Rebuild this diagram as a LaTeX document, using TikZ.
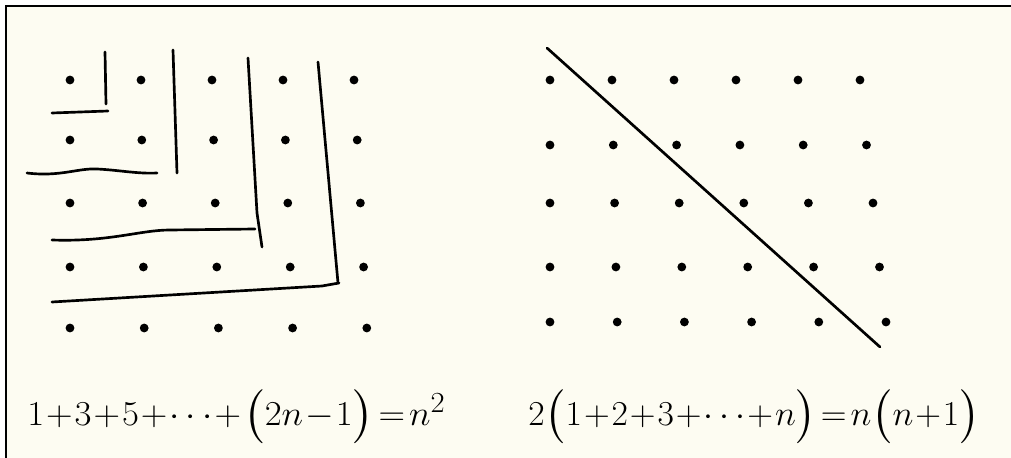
\documentclass[tikz,border=0pt]{standalone}
\usepackage{amsmath, amssymb}
\usepackage{tikz}
\definecolor{paper}{RGB}{253,252,242}

\begin{document}
\begin{tikzpicture}[x=0.025cm, y=-0.025cm,
    dot/.style={fill=black},
    pen/.style={draw=black, line width=1.9pt, line cap=round, line join=round},
    frame/.style={draw=black, line width=1.4pt},
    formula/.style={anchor=base west, inner sep=0pt, font=\fontsize{32}{36}\selectfont}
  ]
    \useasboundingbox (0,0) rectangle (1011,458);
    \fill[paper] (6,6) rectangle (1011,458);
    \draw[frame] (6,458) -- (6,6) -- (1011,6);
    % left square of dots
    \foreach \r/\y in {0/80,1/140,2/203,3/267,4/328}
      \foreach \c in {0,...,4}
        \fill[dot] (70+\c*71+\c*\r*0.8,\y) circle[radius=0.11cm];
    \draw[pen] (105,52) -- (106,104);
    \draw[pen] (52,113) -- (108,111);
    \draw[pen] (173,50) -- (177,173);
    \draw[pen] (27,173) .. controls (60,177) and (78,168) .. (97,169)
      .. controls (118,170) and (138,174) .. (157,173);
    \draw[pen] (248,58) -- (257,213) -- (262,247);
    \draw[pen] (52,240) .. controls (110,242) and (140,230) .. (170,230) -- (255,229);
    \draw[pen] (318,62) -- (338,283);
    \draw[pen] (52,302) -- (322,286) -- (339,283);
    % right rectangle of dots
    \foreach \r/\y in {0/80,1/145,2/203,3/267,4/322}
      \foreach \c in {0,...,5}
        \fill[dot] (550+\c*62+\c*\r*1.3,\y) circle[radius=0.11cm];
    \draw[pen] (547,48) -- (880,347);
    \medmuskip=1mu \thickmuskip=2mu
    \node[formula] (sumodd) at (27,425)
      {\resizebox{10.45cm}{\height}{$1+3+5+\cdots+\bigl(2n-1\bigr)=n^2$}};
    \node[formula] (sumall) at (528,425)
      {\resizebox{11.3cm}{\height}{$2\bigl(1+2+3+\cdots+n\bigr)=n\bigl(n+1\bigr)$}};
\end{tikzpicture}
\end{document}
